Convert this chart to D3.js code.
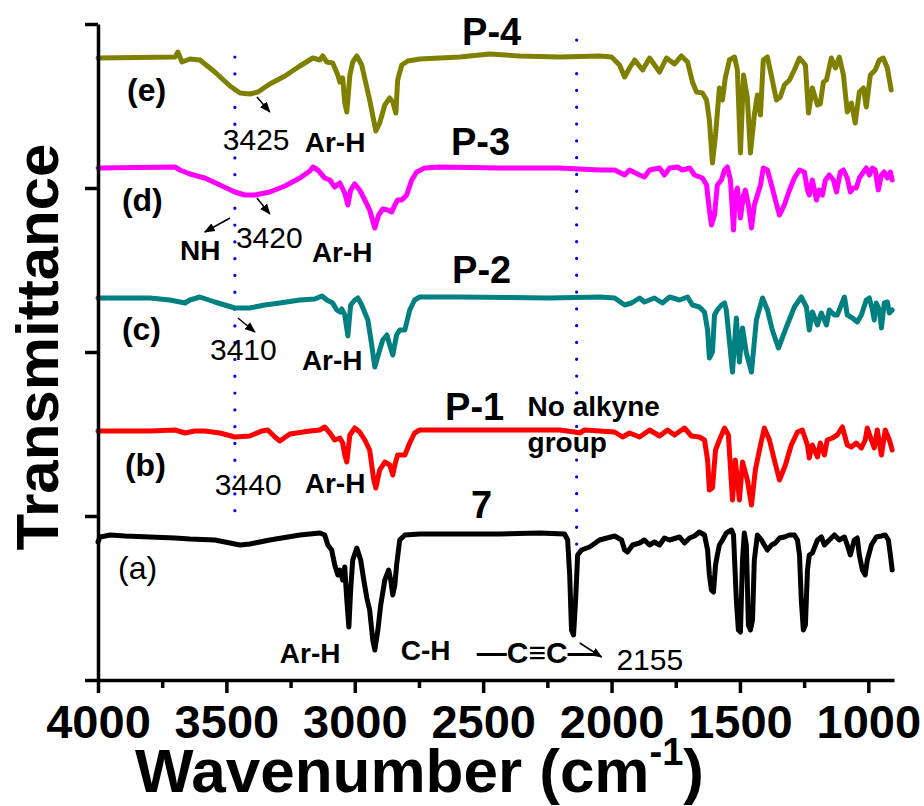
<!DOCTYPE html>
<html><head><meta charset="utf-8">
<script src="https://cdn.jsdelivr.net/npm/d3@7"></script>
<style>
body{margin:0;background:#fff}
svg{display:block}
text{font-family:"Liberation Sans",Arial,Helvetica,sans-serif;fill:#000}
</style>
</head><body>
<svg id="chart" width="924" height="806"></svg>
<script>
// ---------- DATA ----------
const xMajorTicks = [4000, 3500, 3000, 2500, 2000, 1500, 1000];
const xMinorTicks = [3750, 3250, 2750, 2250, 1750, 1250];
const yTicks = [0, 164, 328, 492, 656];          // unlabeled transmittance ticks (a.u.)
const xTitle = "Wavenumber (cm";
const yTitle = "Transmittance";

// (a) compound 7 : [wavenumber, transmittance a.u.]
const spectrum7 = [[4000,138],[3992,143],[3953,145],[3895,144],[3798,143],[3700,142],[3642,141],[3545,140],[3486,137],[3447,135],[3409,136],[3331,140],[3214,145],[3136,147],[3117,145],[3105,135],[3090,130],[3078,115],[3066,105],[3058,110],[3047,100],[3039,113],[3031,80],[3023,53],[3016,90],[3008,120],[2992,132],[2977,120],[2965,100],[2953,82],[2942,70],[2930,40],[2922,30],[2910,50],[2899,75],[2883,100],[2868,110],[2860,100],[2852,85],[2844,95],[2837,115],[2825,140],[2805,145],[2747,146],[2591,146],[2436,146],[2280,147],[2183,146],[2171,140],[2163,105],[2156,50],[2148,45],[2140,80],[2132,125],[2117,130],[2086,133],[2074,135],[2047,140],[1988,144],[1961,140],[1949,130],[1938,128],[1918,135],[1891,137],[1872,140],[1852,135],[1833,138],[1813,135],[1794,142],[1774,140],[1735,143],[1716,137],[1696,142],[1677,144],[1658,148],[1638,145],[1626,130],[1619,105],[1611,90],[1603,88],[1595,115],[1588,125],[1580,135],[1568,140],[1553,147],[1533,150],[1525,145],[1514,80],[1506,50],[1498,48],[1490,120],[1483,147],[1475,135],[1467,55],[1459,50],[1451,60],[1444,120],[1432,145],[1416,140],[1405,135],[1393,130],[1377,135],[1362,137],[1346,142],[1327,143],[1307,145],[1288,145],[1276,140],[1268,125],[1261,80],[1253,50],[1245,55],[1237,110],[1230,125],[1218,127],[1198,140],[1183,143],[1171,135],[1152,140],[1132,145],[1113,140],[1093,143],[1082,135],[1070,125],[1055,140],[1043,142],[1035,125],[1023,110],[1012,105],[1004,120],[988,135],[969,143],[949,144],[934,145],[922,140],[914,125],[907,110]];

// (b) P-1
const spectrumP1 = [[4000,249],[3798,249],[3700,250],[3661,247],[3623,249],[3584,249],[3525,247],[3467,243],[3409,244],[3362,249],[3339,250],[3311,243],[3292,239],[3253,246],[3175,249],[3136,250],[3117,253],[3097,247],[3078,240],[3058,242],[3047,237],[3039,225],[3031,218],[3019,245],[3000,252],[2981,248],[2961,240],[2942,230],[2926,200],[2918,192],[2903,210],[2883,218],[2864,215],[2852,205],[2844,215],[2833,225],[2805,225],[2786,237],[2767,247],[2747,250],[2669,250],[2436,250],[2202,250],[2144,248],[2124,247],[2105,250],[2047,249],[1988,248],[1957,243],[1930,247],[1891,243],[1852,250],[1813,244],[1782,250],[1755,245],[1716,252],[1689,244],[1658,243],[1638,240],[1626,220],[1619,190],[1607,192],[1595,230],[1580,240],[1560,252],[1545,245],[1529,180],[1518,220],[1502,180],[1490,218],[1471,200],[1455,175],[1440,210],[1424,230],[1405,252],[1385,240],[1366,220],[1346,200],[1323,215],[1300,235],[1276,248],[1257,250],[1237,235],[1230,222],[1218,235],[1198,223],[1187,237],[1171,225],[1160,240],[1140,242],[1121,245],[1101,253],[1082,235],[1066,233],[1047,237],[1027,232],[1012,240],[1004,252],[988,240],[977,232],[965,250],[949,225],[934,250],[918,240],[907,230]];

// (c) P-2
const spectrumP2 = [[4000,382],[3798,382],[3720,380],[3661,377],[3642,380],[3603,383],[3545,378],[3467,372],[3409,372],[3350,375],[3292,377],[3214,380],[3156,381],[3128,384],[3109,380],[3086,377],[3070,370],[3058,368],[3051,371],[3039,365],[3027,344],[3016,375],[3000,380],[2988,382],[2973,375],[2949,360],[2934,335],[2922,313],[2903,330],[2891,340],[2875,345],[2864,335],[2852,325],[2837,345],[2825,350],[2805,350],[2786,370],[2767,380],[2747,383],[2708,383],[2591,383],[2241,382],[2047,383],[1988,382],[1949,375],[1922,377],[1891,382],[1872,378],[1833,382],[1802,377],[1774,383],[1735,380],[1704,383],[1685,375],[1658,373],[1638,368],[1626,350],[1619,322],[1607,328],[1599,365],[1588,370],[1572,375],[1560,377],[1553,370],[1529,308],[1514,362],[1502,318],[1490,352],[1475,327],[1455,308],[1436,360],[1412,382],[1393,370],[1374,350],[1350,332],[1319,353],[1288,373],[1261,383],[1241,373],[1230,350],[1218,368],[1198,355],[1183,367],[1163,355],[1152,370],[1132,365],[1121,365],[1093,383],[1082,365],[1062,362],[1043,358],[1027,365],[1008,380],[996,382],[984,370],[977,360],[969,377],[957,370],[949,352],[938,377],[926,378],[918,367],[907,370]];

// (d) P-3
const spectrumP3 = [[4000,512],[3700,513],[3681,510],[3642,506],[3584,502],[3525,495],[3467,488],[3428,485],[3389,485],[3331,488],[3272,494],[3214,502],[3175,509],[3163,513],[3144,510],[3117,502],[3097,500],[3078,493],[3058,497],[3039,487],[3027,475],[3016,490],[3000,496],[2981,490],[2961,480],[2942,470],[2922,452],[2907,465],[2891,471],[2872,470],[2856,468],[2844,475],[2833,480],[2817,480],[2798,485],[2778,500],[2759,508],[2728,512],[2669,513],[2436,512],[2202,512],[2047,510],[1988,510],[1949,505],[1930,510],[1891,505],[1872,503],[1852,510],[1813,512],[1794,505],[1774,512],[1743,513],[1724,510],[1696,512],[1677,505],[1646,502],[1630,495],[1619,470],[1611,455],[1599,465],[1588,495],[1572,500],[1560,510],[1549,513],[1537,500],[1525,450],[1518,485],[1510,492],[1498,462],[1486,485],[1479,490],[1467,475],[1455,452],[1444,475],[1432,485],[1420,495],[1409,512],[1393,510],[1377,495],[1362,480],[1346,465],[1327,475],[1307,490],[1288,502],[1268,510],[1249,508],[1237,490],[1230,485],[1218,500],[1202,480],[1191,490],[1179,485],[1167,500],[1152,505],[1136,500],[1124,488],[1109,508],[1097,510],[1082,502],[1070,488],[1058,492],[1047,492],[1035,502],[1019,508],[1008,512],[996,505],[984,512],[973,510],[961,490],[949,505],[938,508],[926,502],[914,508],[907,500]];

// (e) P-4
const spectrumP4 = [[4000,622],[3700,623],[3689,628],[3673,618],[3642,621],[3603,620],[3545,608],[3486,594],[3447,587],[3409,586],[3377,588],[3331,596],[3272,604],[3214,614],[3163,622],[3136,620],[3125,624],[3109,618],[3086,617],[3066,605],[3058,598],[3047,602],[3039,577],[3031,568],[3019,605],[3008,618],[2992,624],[2973,615],[2942,580],[2918,549],[2903,557],[2883,575],[2864,582],[2852,578],[2840,567],[2833,600],[2817,615],[2794,619],[2747,621],[2669,622],[2591,623],[2475,626],[2358,624],[2202,623],[2047,624],[2000,623],[1969,615],[1949,603],[1930,612],[1910,620],[1879,610],[1852,622],[1813,608],[1786,622],[1755,616],[1728,624],[1704,618],[1685,598],[1669,588],[1646,587],[1630,580],[1619,560],[1607,517],[1595,545],[1580,592],[1568,580],[1557,602],[1541,620],[1521,623],[1510,610],[1498,527],[1486,605],[1471,582],[1459,527],[1444,565],[1432,585],[1420,565],[1409,620],[1393,623],[1374,600],[1358,580],[1343,583],[1327,595],[1307,600],[1288,610],[1268,622],[1245,615],[1233,567],[1218,592],[1198,575],[1187,576],[1175,598],[1163,600],[1144,622],[1128,612],[1113,623],[1097,605],[1082,568],[1066,577],[1051,557],[1035,588],[1019,592],[1008,573],[992,605],[973,610],[957,620],[942,622],[926,612],[911,590]];

const seriesData   = [spectrum7, spectrumP1, spectrumP2, spectrumP3, spectrumP4];
const seriesColors = ["#000000", "#FF0000", "#008080", "#FF00FF", "#808000"];

// reference (dotted) lines: wavenumber, from T, to T
const refLines = [[3467, 623, 160], [2136, 640, 128]];

// annotations: text, wavenumber, T, anchor, size, weight
const annotations = [
  ["(e)", 3887, 579, "start", 32, "bold"],
  ["(d)", 3907, 469, "start", 32, "bold"],
  ["(c)", 3907, 340, "start", 32, "bold"],
  ["(b)", 3895, 204, "start", 32, "bold"],
  ["(a)", 3922, 101, "start", 32, "normal"],
  ["P-4", 2467, 635, "middle", 38, "bold"],
  ["P-3", 2510, 525, "middle", 38, "bold"],
  ["P-2", 2506, 397, "middle", 38, "bold"],
  ["P-1", 2533, 260, "middle", 38, "bold"],
  ["7",   2506, 162, "middle", 38, "bold"],
  ["3425", 3514, 530, "start", 30, "normal"],
  ["Ar-H", 3195, 528, "start", 28, "bold"],
  ["NH",   3681, 420, "start", 28, "bold"],
  ["3420", 3463, 432, "start", 30, "normal"],
  ["Ar-H", 3167, 418, "start", 28, "bold"],
  ["3410", 3564, 320, "start", 30, "normal"],
  ["Ar-H", 3206, 310, "start", 28, "bold"],
  ["3440", 3545, 185, "start", 30, "normal"],
  ["Ar-H", 3195, 187, "start", 28, "bold"],
  ["No alkyne", 2327, 264, "start", 28, "bold"],
  ["group", 2327, 228, "start", 28, "bold"],
  ["Ar-H", 3292, 17, "start", 28, "bold"],
  ["C-H",  2821, 20, "start", 28, "bold"],
  ["\u2014C\u2261C\u2014", 2525, 17, "start", 30, "bold"],
  ["2155", 1981, 10, "start", 30, "normal"]
];

// arrows: [wn1, T1, wn2, T2] (head at second point)
const arrows = [
  [3381, 583, 3331, 568],
  [3381, 482, 3331, 466],
  [3486, 462, 3584, 448],
  [3455, 362, 3389, 348],
  [2124, 37, 2039, 23]
];

// ---------- CHART ----------
const svg = d3.select("#chart");
const x = d3.scaleLinear().domain([4000, 900]).range([98, 894]);
const y = d3.scaleLinear().domain([0, 656]).range([680, 24]);

const defs = svg.append("defs");
defs.append("marker").attr("id", "ah")
  .attr("viewBox", "0 0 10 10").attr("refX", 9).attr("refY", 5)
  .attr("markerWidth", 11).attr("markerHeight", 11).attr("markerUnits", "userSpaceOnUse")
  .attr("orient", "auto")
  .append("path").attr("d", "M0,1 L10,5 L0,9 Z").attr("fill", "#000");

// reference (dotted) lines
svg.append("g").selectAll("line").data(refLines).join("line")
  .attr("x1", d => x(d[0])).attr("x2", d => x(d[0]))
  .attr("y1", d => y(d[1])).attr("y2", d => y(d[2]))
  .attr("stroke", "#0000FF").attr("stroke-width", 3.2)
  .attr("stroke-linecap", "round").attr("stroke-dasharray", "0.1 16.7");

// spectra
const line = d3.line().x(d => x(d[0])).y(d => y(d[1]));
svg.append("g").selectAll("path").data(seriesData).join("path")
  .attr("d", line).attr("fill", "none")
  .attr("stroke", (d, i) => seriesColors[i])
  .attr("stroke-width", 5).attr("stroke-linejoin", "round").attr("stroke-linecap", "round");

// axes
const axisStyle = g => {
  g.selectAll("path.domain").attr("stroke", "#000").attr("stroke-width", 3.5);
  g.selectAll(".tick line").attr("stroke", "#000").attr("stroke-width", 3.5);
};
const xAxis = svg.append("g").attr("transform", "translate(0,680)")
  .call(d3.axisBottom(x).tickValues(xMajorTicks).tickSize(13).tickSizeOuter(0).tickPadding(12).tickFormat(d3.format("d")))
  .call(axisStyle);
xAxis.selectAll(".tick text").attr("font-size", 47).attr("font-weight", "bold")
  .attr("font-family", "'Liberation Sans', Arial, sans-serif");
svg.append("g").attr("transform", "translate(0,680)")
  .call(d3.axisBottom(x).tickValues(xMinorTicks).tickSize(8).tickSizeOuter(0).tickFormat(""))
  .call(axisStyle)
  .call(g => g.select("path.domain").remove());
svg.append("g").attr("transform", "translate(98,0)")
  .call(d3.axisLeft(y).tickValues(yTicks).tickSize(13).tickSizeOuter(0).tickFormat(""))
  .call(axisStyle);

// titles
const xt = svg.append("text").attr("x", 135).attr("y", 792)
  .attr("font-size", 62).attr("font-weight", "bold");
xt.append("tspan").text(xTitle);
xt.append("tspan").text("-1").attr("font-size", 38).attr("dy", -27);
xt.append("tspan").text(")").attr("dy", 27);

svg.append("text").attr("transform", "translate(58,347) rotate(-90)")
  .attr("text-anchor", "middle").attr("font-size", 60).attr("font-weight", "bold")
  .text(yTitle);

// annotations
svg.append("g").selectAll("text").data(annotations).join("text")
  .attr("x", d => x(d[1])).attr("y", d => y(d[2]))
  .attr("text-anchor", d => d[3]).attr("font-size", d => d[4]).attr("font-weight", d => d[5])
  .text(d => d[0]);

svg.append("g").selectAll("line").data(arrows).join("line")
  .attr("x1", d => x(d[0])).attr("y1", d => y(d[1]))
  .attr("x2", d => x(d[2])).attr("y2", d => y(d[3]))
  .attr("stroke", "#000").attr("stroke-width", 1.5)
  .attr("marker-end", "url(#ah)");
</script>
</body></html>
